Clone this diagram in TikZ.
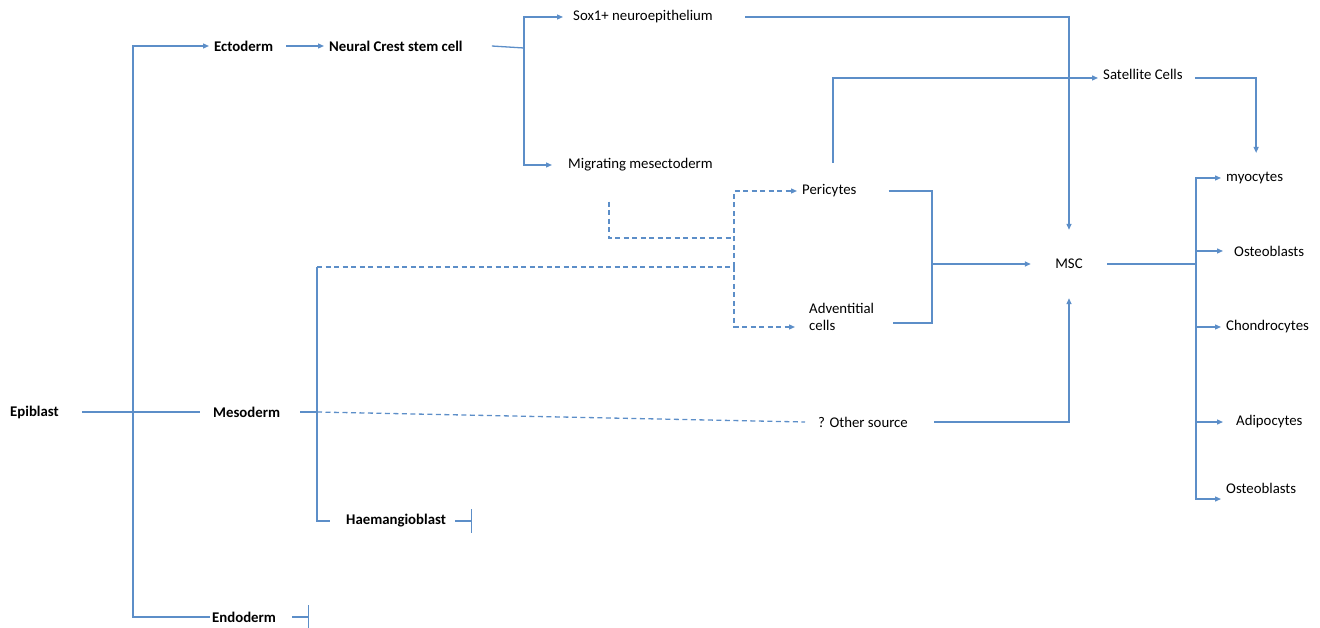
\documentclass[tikz,border=0pt]{standalone}
\usepackage{fontspec}
\setmainfont{Carlito}
\usepackage{tikz}
\definecolor{lineblue}{RGB}{92, 142, 200}
\newcommand{\labelsize}{\fontsize{14.8}{17}\selectfont}
\usetikzlibrary{arrows.meta, positioning, calc}

\begin{document}
\begin{tikzpicture}[
    x=1pt, y=-1pt,
    lbl/.style={anchor=west, inner xsep=5pt, inner ysep=3pt, align=left, font=\labelsize},
    germ/.style={lbl, font=\labelsize\bfseries},
    link/.style={lineblue, line width=1.3pt},
    arrow/.style={link, -{Triangle[length=6pt, width=5pt]}},
    dlink/.style={link, dash pattern=on 5pt off 3.5pt},
    darrow/.style={dlink, -{Triangle[length=6pt, width=5pt]}},
    stop/.style={link, -{Bar[width=24pt]}}
]
    \useasboundingbox (0,0) rectangle (1320,628);

    \node[germ] (epi) at (5,412) {Epiblast};
    \node[germ] (ecto) at (209,46) {Ectoderm};
    \node[germ] (meso) at (208,412) {Mesoderm};
    \node[germ] (endo) at (207,617) {Endoderm};
    \node[germ] (ncsc) at (324,46) {Neural Crest stem cell};
    \node[germ] (haem) at (341,521) {Haemangioblast};
    \node[lbl] (sox) at (568,17) {Sox1+ neuroepithelium};
    \node[lbl] (migr) at (563,165) {Migrating mesectoderm};
    \node[lbl] (peri) at (797,191) {Pericytes};
    \node[lbl] (adv) at (804,316.5) {Adventitial\\cells};
    \node[lbl] (other) at (813,422) {? Other source};
    \node[lbl, anchor=center, minimum width=76pt, minimum height=68pt, inner sep=0pt] (msc) at (1069,264) {MSC};
    \node[lbl] (sat) at (1098,74) {Satellite Cells};
    \node[lbl] (myo) at (1221,178) {myocytes};
    \node[lbl] (ost1) at (1229,251) {Osteoblasts};
    \node[lbl] (chon) at (1221,327) {Chondrocytes};
    \node[lbl] (adip) at (1231,422) {Adipocytes};
    \node[lbl] (ost2) at (1221,488) {Osteoblasts};

    \coordinate (epijn) at (133,412);
    \coordinate (ncjn) at (524,48);
    \coordinate (mesojn) at (317,412);
    \coordinate (mesotop) at (317,267);
    \coordinate (dashjn) at (734,267);
    \coordinate (migrjn) at (734,238);
    \coordinate (perijn) at (932,264);
    \coordinate (perisat) at (833,163);
    \coordinate (fanjn) at (1196,264);

    \draw[link] ([xshift=18pt]epi.east) -- ([xshift=-8pt]meso.west);
    \draw[arrow] (epijn) |- (ecto.west);
    \draw[link] (epijn) |- ([xshift=3pt]endo.west);
    \draw[stop] ([xshift=11pt]endo.east) -- ++(17,0);
    \draw[arrow] ([xshift=8pt]ecto.east) -- (ncsc.west);

    \draw[link] ([xshift=24pt]ncsc.east) -- (ncjn);
    \draw[arrow] (ncjn) |- ([xshift=-5pt]sox.west);
    \draw[arrow] (ncjn) |- ([xshift=-11pt]migr.west);
    \draw[arrow] ([xshift=27pt]sox.east) -| (msc.north);

    \draw[link] ([xshift=15pt]meso.east) -- (mesojn);
    \draw[link] (mesotop) |- ([xshift=-11pt]haem.west);
    \draw[stop] ([xshift=4pt]haem.east) -- ++(17,0);
    \draw[dlink] (mesotop) -- (dashjn);
    \draw[dlink] (mesojn) -- ([xshift=-8pt]other.west);
    \draw[dlink] ([xshift=46pt,yshift=-27pt]migr.south west) |- (migrjn);
    \draw[darrow] (dashjn) |- (peri.west);
    \draw[darrow] (dashjn) |- ([xshift=-9pt,yshift=-10.5pt]adv.west);

    \draw[link] ([xshift=27pt]peri.east) -| (perijn);
    \draw[link] ([xshift=14pt,yshift=-6.5pt]adv.east) -| (perijn);
    \draw[arrow] (perijn) -- (msc.west);
    \draw[arrow] ([xshift=21pt]other.east) -| (msc.south);
    \draw[arrow] (perisat) |- ([yshift=-4pt]sat.west);
    \draw[arrow] ([xshift=7pt,yshift=-4pt]sat.east) -| ([xshift=1.5pt,yshift=16pt]myo.north);

    \draw[link] (msc.east) -- (fanjn);
    \draw[arrow] (fanjn) |- (myo.west);
    \draw[arrow] (fanjn) |- ([xshift=-6pt]ost1.west);
    \draw[arrow] (fanjn) |- (chon.west);
    \draw[arrow] (fanjn) |- ([xshift=-8pt]adip.west);
    \draw[arrow] (fanjn) |- ([yshift=-11pt]ost2.west);
\end{tikzpicture}
\end{document}
